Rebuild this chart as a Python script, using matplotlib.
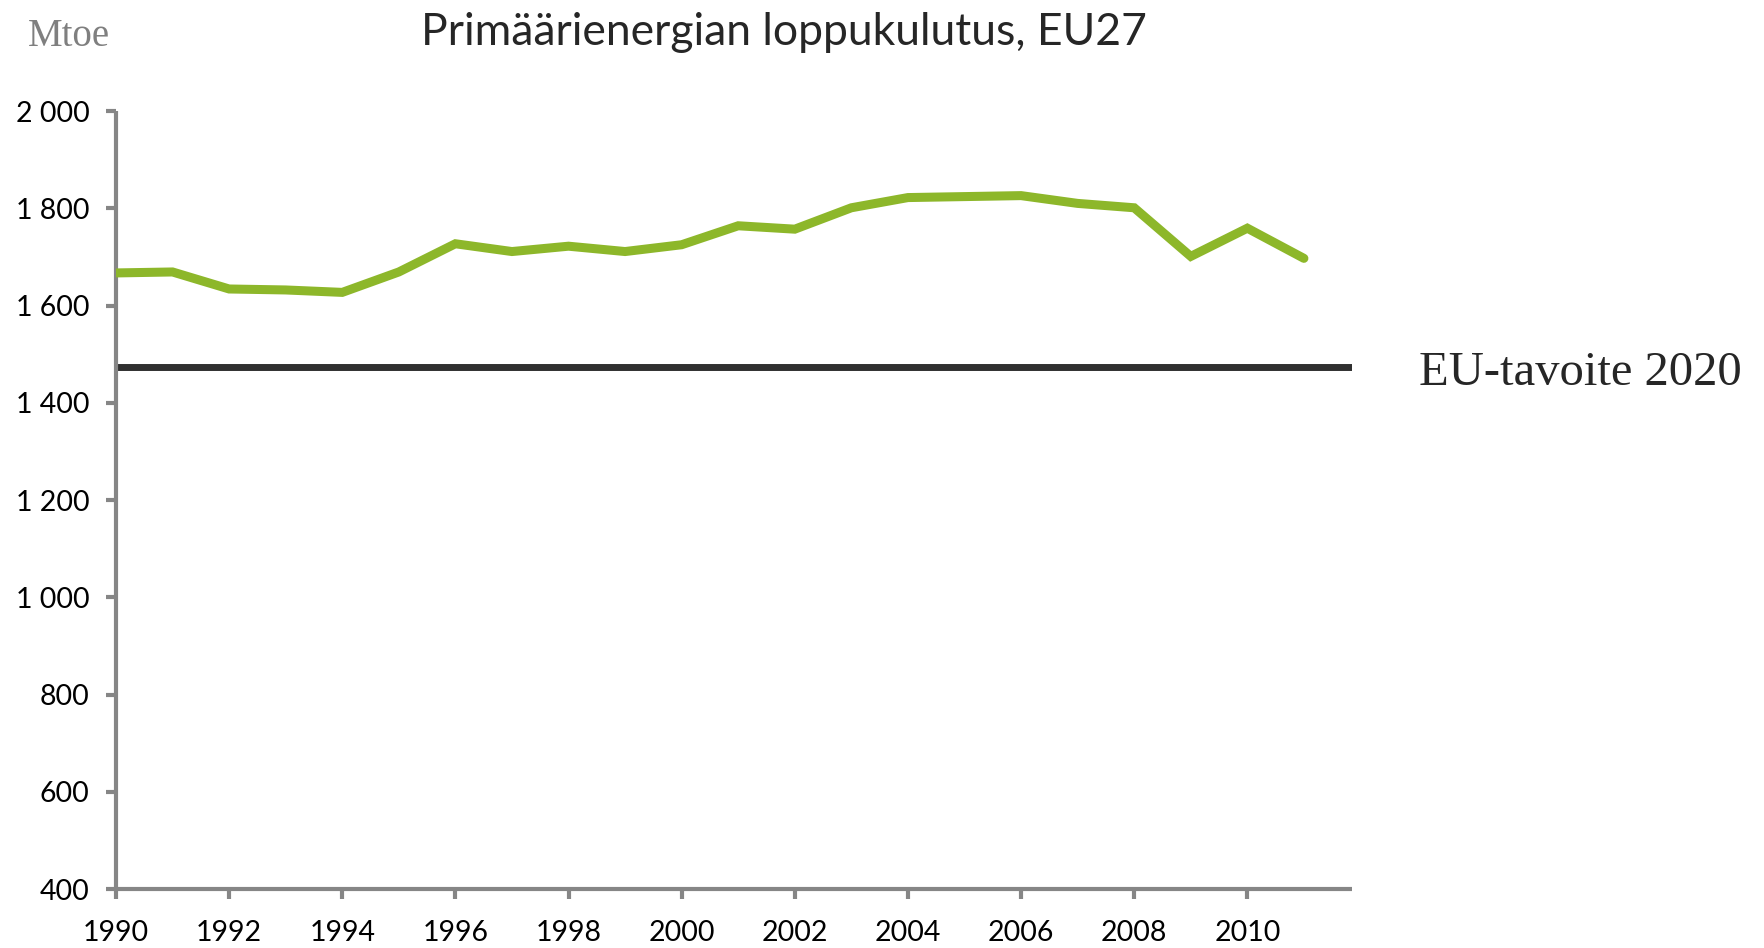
import numpy as np
import matplotlib.pyplot as plt
from matplotlib.ticker import FuncFormatter

# data
years = list(range(1990, 2012))
consumption = [1667, 1669, 1634, 1632, 1627, 1669, 1727, 1711, 1722, 1711, 1725,
               1764, 1757, 1801, 1822, 1824, 1826, 1810, 1801, 1701, 1759, 1697]
target_value = 1474
target_label = 'EU-tavoite 2020'
title_text = 'Primäärienergian loppukulutus, EU27'
unit_text = 'Mtoe'
y_ticks = [400, 600, 800, 1000, 1200, 1400, 1600, 1800, 2000]
x_ticks = list(range(1990, 2011, 2))

fig = plt.figure(figsize=(17.65, 9.48), dpi=100)
ax = fig.add_axes([0.0657, 0.0622, 0.7003, 0.8207])

ax.plot(years, consumption, color='#8DB72A', lw=6.5, solid_capstyle='round',
        solid_joinstyle='miter', zorder=3)
ax.axhline(target_value, color='#303030', lw=5, zorder=2)

ax.set_xlim(1990, 2011.85)
ax.set_ylim(400, 2000)
ax.set_yticks(y_ticks)
ax.set_xticks(x_ticks)
ax.yaxis.set_major_formatter(FuncFormatter(lambda v, p: '{:,.0f}'.format(v).replace(',', ' ')))

for s in ['top', 'right']:
    ax.spines[s].set_visible(False)
for s in ['left', 'bottom']:
    ax.spines[s].set_color('#868686')
    ax.spines[s].set_linewidth(3)
    ax.spines[s].set_capstyle('butt')

ax.tick_params(axis='both', colors='#868686', width=3, length=7, direction='out',
               labelcolor='black', labelsize=20.5)
ax.tick_params(axis='y', pad=12)
ax.tick_params(axis='x', pad=15)
for lab in ax.get_xticklabels() + ax.get_yticklabels():
    lab.set_family('Lato')

fig.text(0.444, 0.966, title_text, ha='center', va='center', fontsize=32,
         family='Lato', color='#262626')
fig.text(0.016, 0.962, unit_text, ha='left', va='center', fontsize=28,
         family='Liberation Serif', color='#7F7F7F')
fig.text(0.804, 0.607, target_label, ha='left', va='center', fontsize=35,
         family='Liberation Serif', color='#262626')

fig.savefig('out.png', dpi=100)
